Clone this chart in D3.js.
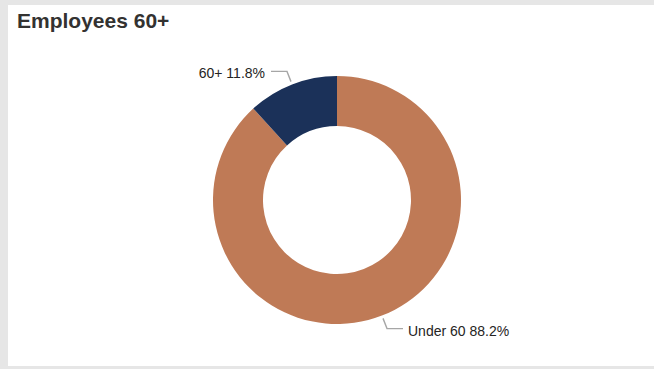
<!DOCTYPE html>
<html lang="en">
<head>
    <meta charset="UTF-8">
    <style>
        body { margin: 0; background: #e6e6e6; }
        #chart { position: absolute; left: 0; top: 0; }
        .title { font-family: "Liberation Sans", Arial, sans-serif; font-size: 21px; font-weight: 600; fill: #333231; }
        .label { font-family: "Liberation Sans", Arial, sans-serif; font-size: 14px; fill: #252423; }
        .leader { fill: none; stroke: #a6a6a6; stroke-width: 1.4px; }
    </style>
    <title>Employees 60+</title>
</head>
<body>
<div id="chart"></div>
<script src="https://cdn.jsdelivr.net/npm/d3@7"></script>
<script>
    var width = 654, height = 369;

    // data
    var categories = ["Under 60", "60+"];
    var shares = [88.2, 11.8];
    var colors = ["#bf7a56", "#1b3159"];

    var cx = 337, cy = 200,
        outerR = 124, innerR = 74;

    var svg = d3.select("#chart").append("svg")
        .attr("width", width)
        .attr("height", height);

    // white card
    svg.append("rect")
        .attr("x", 8).attr("y", 5)
        .attr("width", width - 8).attr("height", 361)
        .attr("fill", "#fff");

    svg.append("text")
        .attr("class", "title")
        .attr("x", 17).attr("y", 28)
        .text("Employees 60+");

    var data = categories.map(function (c, i) { return { name: c, value: shares[i], color: colors[i] }; });

    var pie = d3.pie().sort(null).value(function (d) { return d.value; });
    var arc = d3.arc().innerRadius(innerR).outerRadius(outerR);

    var g = svg.append("g").attr("transform", "translate(" + cx + "," + cy + ")");

    var slices = pie(data);

    g.selectAll("path.slice")
        .data(slices)
        .enter().append("path")
        .attr("class", "slice")
        .attr("d", arc)
        .attr("fill", function (d) { return d.data.color; });

    // leader lines + labels
    function pt(a, r) { return [r * Math.sin(a), -r * Math.cos(a)]; }

    slices.forEach(function (d) {
        var mid = (d.startAngle + d.endAngle) / 2;
        var p0 = pt(mid, 127), p1 = pt(mid, 138);
        var right = Math.sin(mid) > 0;
        var p2 = [p1[0] + (right ? 16 : -16), p1[1]];
        g.append("path")
            .attr("class", "leader")
            .attr("d", d3.line()([p0, p1, p2]));
        g.append("text")
            .attr("class", "label")
            .attr("x", p2[0] + (right ? 5 : -6))
            .attr("y", p2[1] + 7)
            .attr("text-anchor", right ? "start" : "end")
            .text(d.data.name + " " + d3.format(".1f")(d.data.value) + "%");
    });
</script>
</body>
</html>
